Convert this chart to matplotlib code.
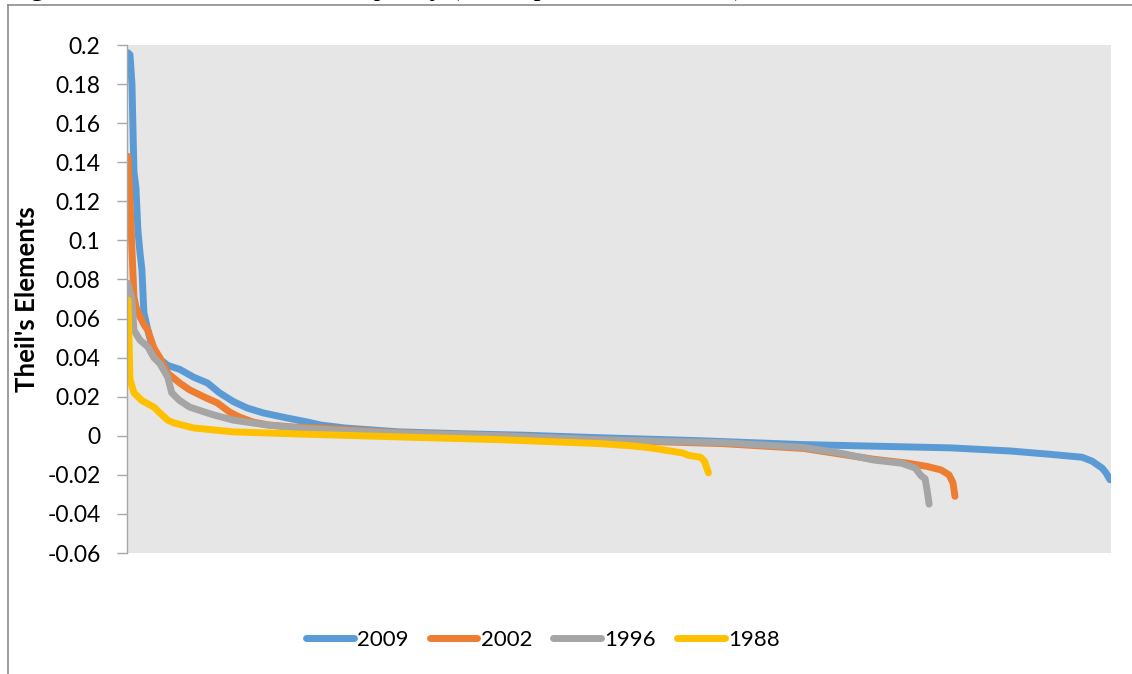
import matplotlib
matplotlib.use('Agg')
import matplotlib.pyplot as plt
from matplotlib.lines import Line2D

# ranked Theil elements as (rank, value) key points
N_CATEGORIES = 495

rank_2009 = [1, 2, 3, 4, 5, 6, 7, 8, 9, 11, 13, 16, 21, 27, 34, 41, 47, 54, 61, 69,
             81, 91, 98, 110, 137, 170, 200, 238, 288, 340, 415, 445, 465, 481, 486,
             491, 493, 495]
theil_2009 = [0.196, 0.195, 0.180, 0.135, 0.127, 0.105, 0.094, 0.085, 0.063, 0.054,
              0.046, 0.040, 0.036, 0.034, 0.030, 0.027, 0.022, 0.0175, 0.0142, 0.0117,
              0.0091, 0.0071, 0.0055, 0.004, 0.002, 0.001, 0.0003, -0.001, -0.0025,
              -0.0045, -0.0062, -0.0078, -0.0095, -0.011, -0.013, -0.0165, -0.019,
              -0.0225]

rank_2002 = [1, 2, 3, 4, 5, 7, 9, 11, 14, 17, 21, 27, 32, 39, 46, 52, 57, 64, 72, 84,
             98, 138, 188, 238, 300, 341, 376, 393, 403, 410, 414, 416, 417]
theil_2002 = [0.143, 0.120, 0.095, 0.071, 0.066, 0.061, 0.057, 0.054, 0.045, 0.040,
              0.032, 0.027, 0.0235, 0.020, 0.0168, 0.0122, 0.0096, 0.007, 0.0055, 0.0045,
              0.004, 0.0015, 0.0, -0.0022, -0.004, -0.0065, -0.012, -0.014, -0.0157,
              -0.0175, -0.020, -0.024, -0.031]

rank_1996 = [1, 3, 4, 7, 11, 14, 17, 21, 23, 27, 32, 37, 44, 54, 71, 87, 104, 138, 188,
             238, 300, 341, 360, 376, 390, 397, 400, 402, 403, 404]
theil_1996 = [0.078, 0.0695, 0.054, 0.049, 0.0455, 0.040, 0.037, 0.030, 0.022, 0.018,
              0.0147, 0.013, 0.0107, 0.008, 0.0055, 0.004, 0.003, 0.0014, 0.0, -0.002,
              -0.0035, -0.006, -0.009, -0.0124, -0.014, -0.0165, -0.0205, -0.022,
              -0.028, -0.035]

rank_1988 = [1, 2, 4, 8, 14, 17, 21, 24, 34, 54, 87, 138, 188, 238, 255, 264, 280, 283,
             289, 291, 292, 293]
theil_1988 = [0.0695, 0.029, 0.022, 0.018, 0.0147, 0.0117, 0.008, 0.0066, 0.004, 0.002,
              0.0009, -0.0006, -0.002, -0.004, -0.0052, -0.0062, -0.0088, -0.010,
              -0.011, -0.013, -0.016, -0.019]

years = ['2009', '2002', '1996', '1988']
colors = ['#5B9BD5', '#ED7D31', '#A5A5A5', '#FFC000']

CAPTION = ("Figure 5: Theil's elements of inequality (decomposition at district), "
           "Indonesia, 1988, 1996, 2002 and 2009")

plt.rcParams['font.family'] = ['Lato', 'DejaVu Sans']

fig = plt.figure(figsize=(11.32, 6.74), dpi=100)
ax = fig.add_axes([127 / 1132, 1 - 553 / 674, 984 / 1132, 508 / 674])
ax.set_facecolor('#E7E6E6')

series = [(rank_2009, theil_2009), (rank_2002, theil_2002),
          (rank_1996, theil_1996), (rank_1988, theil_1988)]
for (r, v), yr, c in zip(series, years, colors):
    ax.plot(r, v, color=c, linewidth=5, solid_capstyle='round',
            solid_joinstyle='round', label=yr)

ax.set_xlim(0.5, N_CATEGORIES + 0.5)
ax.set_ylim(-0.06, 0.2)
ax.set_yticks([-0.06 + 0.02 * k for k in range(14)])
ax.set_yticklabels(['-0.06', '-0.04', '-0.02', '0', '0.02', '0.04', '0.06', '0.08',
                    '0.1', '0.12', '0.14', '0.16', '0.18', '0.2'])
ax.set_xticks([])
ax.tick_params(axis='y', length=7, width=1, color='#A6A6A6', pad=12,
               labelsize=16.5, labelcolor='black')
for s in ['top', 'right', 'bottom']:
    ax.spines[s].set_visible(False)
ax.spines['left'].set_color('#A6A6A6')
ax.spines['left'].set_linewidth(1)

ax.set_ylabel("Theil's Elements", fontsize=18.5, fontweight='bold')
ax.yaxis.set_label_coords((39 - 127) / 984, 0.5)

fig.legend(loc='center', bbox_to_anchor=(543 / 1132, 1 - 640 / 674), ncol=4,
           frameon=False, fontsize=16, handlelength=2.15, handletextpad=0.15,
           columnspacing=0.95)

# cut-off caption and chart frame
fig.text(7 / 1132, 1 + 5 / 674, CAPTION, family='Liberation Serif', fontsize=20,
         va='baseline', ha='left')
fig.add_artist(Line2D([8 / 1132, 1], [1 - 5 / 674, 1 - 5 / 674],
                      transform=fig.transFigure, color='#8C8C8C', linewidth=1.2))
fig.add_artist(Line2D([8 / 1132, 8 / 1132], [1 - 5 / 674, 0],
                      transform=fig.transFigure, color='#8C8C8C', linewidth=1.2))

fig.savefig('out.png', dpi=100)
